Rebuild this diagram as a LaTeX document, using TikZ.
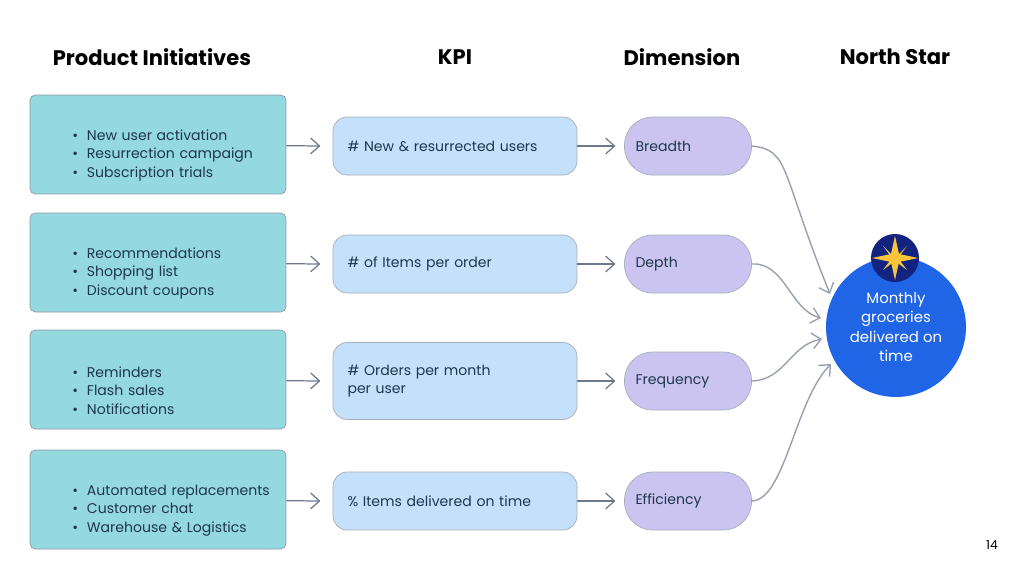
\documentclass[tikz,border=0pt]{standalone}
\usepackage{fontspec}
\setmainfont{Poppins}
\usetikzlibrary{arrows.meta}
\definecolor{teal}{RGB}{148, 216, 224}
\definecolor{sky}{RGB}{197, 224, 251}
\definecolor{lilac}{RGB}{203, 196, 240}
\definecolor{royal}{RGB}{31, 101, 230}
\definecolor{navy}{RGB}{19, 35, 127}
\definecolor{gold}{RGB}{249, 198, 58}
\definecolor{ink}{RGB}{30, 55, 75}
\definecolor{wire}{RGB}{110, 120, 140}

\tikzset{
  title/.style={font=\fontsize{12}{14}\selectfont\bfseries, text=black},
  initiative/.style={draw=ink!50, fill=teal, rounded corners=3pt, minimum width=5.12cm,
    minimum height=1.98cm, text width=4.6cm, align=left, text=ink,
    font=\fontsize{8}{10.5}\selectfont},
  kpi/.style={draw=ink!40, fill=sky, rounded corners=8pt, minimum width=4.88cm,
    minimum height=1.16cm, text width=4.3cm, align=left, text=ink,
    font=\fontsize{8}{10.5}\selectfont},
  dim/.style={draw=ink!40, fill=lilac, rounded corners=16pt, minimum width=2.54cm,
    minimum height=1.16cm, text width=2.1cm, align=left, text=ink,
    font=\fontsize{8}{10}\selectfont},
  flow/.style={wire, line width=0.7pt, -{Straight Barb[length=5pt, width=9pt]}},
  curve/.style={wire!70, line width=0.8pt, -{Straight Barb[length=5pt, width=9pt]}}
}

\begin{document}
\begin{tikzpicture}[x=0.02cm, y=-0.02cm]
  \useasboundingbox[fill=white] (0, 0) rectangle (1024, 576);

  \node[title] at (152, 57) {Product Initiatives};
  \node[title] at (455, 57) {KPI};
  \node[title] at (682, 57) {Dimension};
  \node[title] at (895, 57) {North Star};

  % rows
  \foreach \n/\y/\h/\init/\kpitext/\dimtext in {
      1/146/1.16cm/{New user activation\\Resurrection campaign\\Subscription trials}/{\# New \& resurrected users}/Breadth,
      2/264/1.16cm/{Recommendations\\Shopping list\\Discount coupons}/{\# of Items per order}/Depth,
      3/381/1.54cm/{Reminders\\Flash sales\\Notifications}/{\# Orders per month\\per user}/Frequency,
      4/501/1.16cm/{Automated replacements\\Customer chat\\Warehouse \& Logistics}/{\% Items delivered on time}/Efficiency} {
    \node[initiative] (init\n) at (158, \y - 1.5) {%
      \begin{itemize}\setlength{\itemsep}{0pt}\setlength{\parskip}{0pt}\setlength{\leftmargin}{12pt}
      \def\\{\item}\item \init\end{itemize}};
    \node[kpi, minimum height=\h] (kpi\n) at (455, \y) {\kpitext};
    \node[dim] (dim\n) at (688, \y) {\dimtext};
    \draw[flow] (init\n) -- ([xshift=-7] kpi\n.west);
    \draw[flow] (kpi\n) -- ([xshift=-5] dim\n.west);
  }

  % north star
  \node[circle, fill=royal, minimum size=2.8cm, inner sep=0pt] (goal) at (896, 327) {};
  \node[text=white, align=center, font=\fontsize{8.5}{11}\selectfont] (goaltext) at (896, 327)
    {Monthly\\groceries\\delivered on\\time};
  \node[circle, fill=navy, minimum size=0.96cm, inner sep=0pt] (badge) at (895, 258) {};
  \fill[gold] (895, 236) -- (899, 254) -- (918, 258) -- (899, 262) -- (895, 280)
    -- (891, 262) -- (872, 258) -- (891, 254) -- cycle;
  \fill[gold] (895, 258) -- (907, 246) -- (898, 258) -- (907, 270) -- (895, 261)
    -- (883, 270) -- (892, 258) -- (883, 246) -- cycle;

  \coordinate (in1) at (830, 294);
  \coordinate (in2) at (821, 318);
  \coordinate (in3) at (822, 339);
  \coordinate (in4) at (831, 364);
  \draw[curve] (dim1.east) .. controls (790, 150) and (780, 170) .. (in1);
  \draw[curve] (dim2.east) .. controls (785, 262) and (790, 310) .. (in2);
  \draw[curve] (dim3.east) .. controls (785, 380) and (790, 345) .. (in3);
  \draw[curve] (dim4.east) .. controls (785, 500) and (795, 400) .. (in4);

  \node[font=\fontsize{7}{8}\selectfont] (page) at (992, 545) {14};
\end{tikzpicture}
\end{document}
